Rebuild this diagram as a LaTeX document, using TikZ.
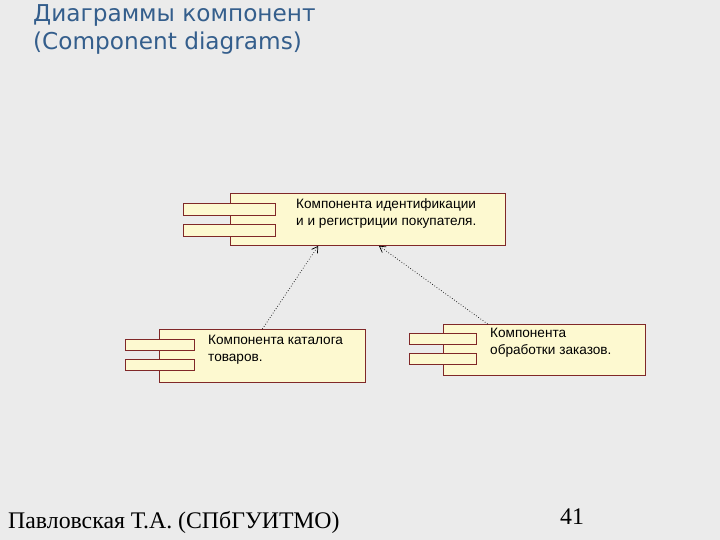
\documentclass[tikz,border=0pt]{standalone}
\usepackage{fontspec}
\setmainfont{Liberation Sans}
\newfontfamily\titlefont{DejaVu Sans}
\newfontfamily\footfont{Liberation Serif}
\usetikzlibrary{positioning,calc,arrows.meta}

\definecolor{slidebg}{RGB}{235,235,235}
\definecolor{titleblue}{RGB}{52,94,140}
\definecolor{compfill}{RGB}{253,249,208}
\definecolor{compline}{RGB}{128,40,40}

\tikzset{
  comp/.style={draw=compline, fill=compfill, line width=0.8pt, inner sep=0pt},
  tabbox/.style={draw=compline, fill=compfill, line width=0.8pt},
  comptext/.style={anchor=north west, inner sep=0pt, align=left,
    font=\fontsize{13.6}{17}\selectfont},
  dep/.style={dotted, line width=0.7pt, -{Straight Barb[length=6pt,width=7pt]}}
}

\begin{document}
\begin{tikzpicture}[x=1pt, y=-1pt]
  \fill[slidebg] (0,0) rectangle (720,540);
  \useasboundingbox (0,0) rectangle (720,540);

  % title
  \node[anchor=north west, inner sep=0pt, align=left, text=titleblue,
    font=\titlefont\fontsize{23.2}{28.5}\selectfont] (title) at (33,4)
    {Диаграммы компонент\\(Component diagrams)};

  % identification component
  \node[comp, anchor=north west, minimum width=275pt, minimum height=52pt] (ident) at (230,193) {};
  \filldraw[tabbox] (183,203) rectangle (275,215);
  \filldraw[tabbox] (183,224) rectangle (275,236);
  \node[comptext, below right=5pt and 66pt of ident.north west] (identtext)
    {Компонента идентификации\\и и регистриции покупателя.};

  % catalog component
  \node[comp, anchor=north west, minimum width=206pt, minimum height=53pt] (catalog) at (159,329) {};
  \filldraw[tabbox] (125,339) rectangle (194,350);
  \filldraw[tabbox] (125,359) rectangle (194,370);
  \node[comptext, below right=6pt and 49pt of catalog.north west] (catalogtext)
    {Компонента каталога\\товаров.};

  % order processing component
  \node[comp, anchor=north west, minimum width=202pt, minimum height=51pt] (order) at (443,324) {};
  \filldraw[tabbox] (409,333) rectangle (476,344);
  \filldraw[tabbox] (409,353) rectangle (476,364);
  \node[comptext, below right=4pt and 47pt of order.north west] (ordertext)
    {Компонента\\обработки заказов.};

  % dependencies
  \draw[dep] (catalog.north) -- ($(ident.south west)!0.32!(ident.south east)$);
  \draw[dep] ($(order.north west)!0.22!(order.north east)$) -- ($(ident.south west)!0.54!(ident.south east)$);

  % footer
  \node[anchor=base west, inner sep=0pt, font=\footfont\fontsize{23.8}{27}\selectfont] (author) at (8,528)
    {Павловская Т.А. (СПбГУИТМО)};
  \node[anchor=base west, inner sep=0pt, font=\footfont\fontsize{23.8}{27}\selectfont] (pagenum) at (560,524)
    {41};
\end{tikzpicture}
\end{document}
